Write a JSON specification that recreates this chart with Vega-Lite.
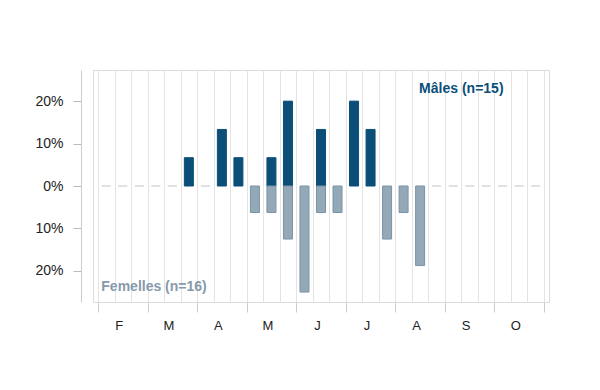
{
  "$schema": "https://vega.github.io/schema/vega-lite/v6.json",
  "width": 456,
  "height": 232,
  "autosize": {"type": "none"},
  "padding": {"left": 93, "top": 70, "right": 51, "bottom": 88},
  "background": "white",
  "config": {"view": {"stroke": "#dcdcdc"}, "font": "Liberation Sans"},
  "data": {"values": [
    {"decade": 0, "males": 0, "femelles": 0},
    {"decade": 1, "males": 0, "femelles": 0},
    {"decade": 2, "males": 0, "femelles": 0},
    {"decade": 3, "males": 0, "femelles": 0},
    {"decade": 4, "males": 0, "femelles": 0},
    {"decade": 5, "males": 0.0667, "femelles": 0},
    {"decade": 6, "males": 0, "femelles": 0},
    {"decade": 7, "males": 0.1333, "femelles": 0},
    {"decade": 8, "males": 0.0667, "femelles": 0},
    {"decade": 9, "males": 0, "femelles": -0.0625},
    {"decade": 10, "males": 0.0667, "femelles": -0.0625},
    {"decade": 11, "males": 0.2, "femelles": -0.125},
    {"decade": 12, "males": 0, "femelles": -0.25},
    {"decade": 13, "males": 0.1333, "femelles": -0.0625},
    {"decade": 14, "males": 0, "femelles": -0.0625},
    {"decade": 15, "males": 0.2, "femelles": 0},
    {"decade": 16, "males": 0.1333, "femelles": 0},
    {"decade": 17, "males": 0, "femelles": -0.125},
    {"decade": 18, "males": 0, "femelles": -0.0625},
    {"decade": 19, "males": 0, "femelles": -0.1875},
    {"decade": 20, "males": 0, "femelles": 0},
    {"decade": 21, "males": 0, "femelles": 0},
    {"decade": 22, "males": 0, "femelles": 0},
    {"decade": 23, "males": 0, "femelles": 0},
    {"decade": 24, "males": 0, "femelles": 0},
    {"decade": 25, "males": 0, "femelles": 0},
    {"decade": 26, "males": 0, "femelles": 0}
  ]},
  "layer": [
    {
      "transform": [{"filter": "datum.males == 0 && datum.femelles == 0"}],
      "mark": {"type": "tick", "orient": "horizontal", "size": 9, "thickness": 1, "color": "#aaaaaa"},
      "encoding": {
        "x": {
          "field": "decade", "type": "quantitative",
          "scale": {"domain": [-0.5, 26.5], "nice": false, "zero": false},
          "axis": {
            "title": null,
            "values": [-0.5,0,0.5,1,1.5,2,2.5,3,3.5,4,4.5,5,5.5,6,6.5,7,7.5,8,8.5,9,9.5,10,10.5,11,11.5,12,12.5,13,13.5,14,14.5,15,15.5,16,16.5,17,17.5,18,18.5,19,19.5,20,20.5,21,21.5,22,22.5,23,23.5,24,24.5,25,25.5,26,26.5],
            "tickCount": 200,
            "grid": true,
            "gridColor": "#e4e4e4",
            "gridOpacity": {"condition": {"test": "datum.value % 1 != 0", "value": 1}, "value": 0},
            "ticks": true,
            "tickSize": 10,
            "tickColor": "#cccccc",
            "tickOpacity": {"condition": {"test": "(datum.value + 0.5) % 3 == 0", "value": 1}, "value": 0},
            "domain": false,
            "labelExpr": "(datum.value - 1) % 3 == 0 ? ['F','M','A','M','J','J','A','S','O'][(datum.value - 1) / 3] : ''",
            "labelOverlap": false,
            "labelFlush": false,
            "labelOffset": -4,
            "labelPadding": 7,
            "labelFontSize": 13,
            "labelColor": "#222222",
            "labelFont": "Liberation Sans"
          }
        },
        "y": {
          "datum": 0, "type": "quantitative",
          "scale": {"domain": [-0.2734, 0.2734], "nice": false, "zero": false},
          "axis": {
            "title": null,
            "values": [-0.2, -0.1, 0, 0.1, 0.2],
            "grid": false,
            "offset": 12,
            "tickSize": 8,
            "tickColor": "#bbbbbb",
            "domainColor": "#cccccc",
            "labelPadding": 10,
            "labelFontSize": 14,
            "labelColor": "#222222",
            "labelFont": "Liberation Sans",
            "labelExpr": "format(abs(datum.value), '.0%')"
          }
        }
      }
    },
    {
      "transform": [
        {"fold": ["males", "femelles"], "as": ["sexe", "part"]},
        {"filter": "datum.part != 0"}
      ],
      "mark": {"type": "bar", "width": 9, "strokeWidth": 1},
      "encoding": {
        "x": {"field": "decade", "type": "quantitative"},
        "y": {"field": "part", "type": "quantitative", "stack": null},
        "fill": {"field": "sexe", "type": "nominal", "scale": {"domain": ["males", "femelles"], "range": ["#0b4f79", "#94a9b8"]}, "legend": null},
        "stroke": {"field": "sexe", "type": "nominal", "scale": {"domain": ["males", "femelles"], "range": ["#0b4f79", "#7b93a4"]}, "legend": null}
      }
    },
    {
      "data": {"values": [
        {"decade": 18.94, "part": 0.2275, "etiquette": "Mâles (n=15)", "sexe": "males"},
        {"decade": -0.3, "part": -0.237, "etiquette": "Femelles (n=16)", "sexe": "femelles"}
      ]},
      "mark": {"type": "text", "align": "left", "baseline": "middle", "fontWeight": "bold", "fontSize": 14, "font": "Liberation Sans"},
      "encoding": {
        "x": {"field": "decade", "type": "quantitative"},
        "y": {"field": "part", "type": "quantitative"},
        "text": {"field": "etiquette"},
        "color": {"condition": {"test": "datum.sexe == 'males'", "value": "#0b4f79"}, "value": "#8799aa"}
      }
    }
  ]
}
